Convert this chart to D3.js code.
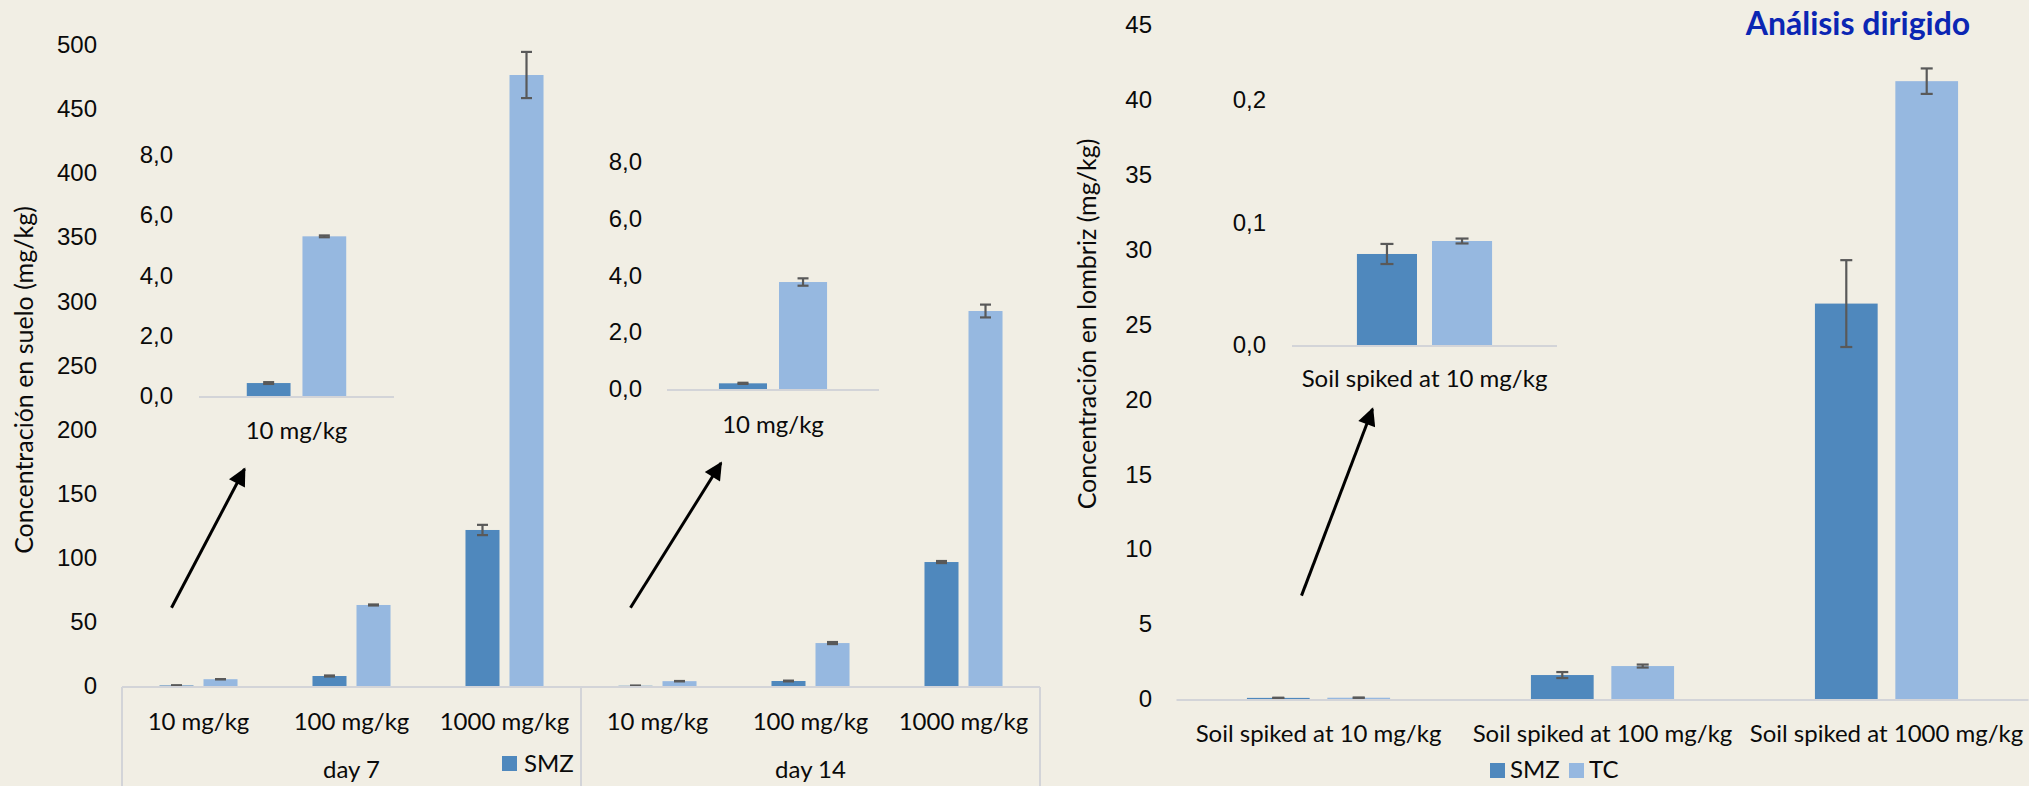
<!DOCTYPE html>
<html>
<head>
<meta charset="utf-8">
<script src="https://cdn.jsdelivr.net/npm/d3@7.9.0/dist/d3.min.js"></script>
<style>
  html, body { margin: 0; padding: 0; background: #f1eee4; overflow: hidden; }
  svg { display: block; font-family: Lato, Carlito, Calibri, sans-serif; }
</style>
</head>
<body>
<svg id="chart" width="2029" height="786"></svg>
<script>
const series = ['SMZ', 'TC'];
const colors = ['#4f88bd', '#96b8e0'];

// soil concentration (left panel), day 7 then day 14
const soilDays = ['day 7', 'day 14'];
const soilDoses = ['10 mg/kg', '100 mg/kg', '1000 mg/kg'];
const soilSMZ = [0.43, 7.8, 121.7, 0.2, 3.9, 96.7];
const soilSMZErr = [0.03, 0.4, 4, 0.02, 0.3, 0.8];
const soilTC = [5.3, 63.2, 476.6, 3.77, 33.5, 292.5];
const soilTCErr = [0.03, 0.4, 18, 0.13, 0.8, 5];
const soilTicks = [0, 50, 100, 150, 200, 250, 300, 350, 400, 450, 500];
const soilInsetTicks = [0, 2, 4, 6, 8];

// earthworm concentration (right panel)
const wormDoses = ['Soil spiked at 10 mg/kg', 'Soil spiked at 100 mg/kg', 'Soil spiked at 1000 mg/kg'];
const wormSMZ = [0.0743, 1.6, 26.4];
const wormSMZErr = [0.0082, 0.2, 2.9];
const wormTC = [0.0849, 2.2, 41.25];
const wormTCErr = [0.002, 0.1, 0.85];
const wormTicks = [0, 5, 10, 15, 20, 25, 30, 35, 40, 45];
const wormInsetTicks = [0, 0.1, 0.2];

const svg = d3.select('#chart');
const es = d3.formatLocale({ decimal: ',', thousands: '.', grouping: [3], currency: ['', '€'] });
const fmt1 = es.format('.1f');
const axisGrey = '#d3d4d8';
const errGrey = '#595959';
const ink = '#0a0a0a';
const FS = 24;

svg.append('defs').append('marker')
    .attr('id', 'head')
    .attr('viewBox', '0 0 10 10')
    .attr('refX', 9).attr('refY', 5)
    .attr('markerWidth', 7).attr('markerHeight', 6)
    .attr('markerUnits', 'strokeWidth')
    .attr('orient', 'auto')
    .append('path').attr('d', 'M0,0 L10,5 L0,10 z').attr('fill', '#000');

// draws one grouped bar panel with error bars and returns its scales
function panel({ keys, smz, smzErr, tc, tcErr, xRange, pad, gap, yDomain, yRange, ticks, fmt, tickRight, cap }) {
    const x0 = d3.scaleBand().domain(keys).range(xRange).paddingInner(pad).paddingOuter(pad / 2);
    const x1 = d3.scaleBand().domain(series).range([0, x0.bandwidth()]).paddingInner(gap);
    const y = d3.scaleLinear().domain(yDomain).range(yRange);
    const g = svg.append('g');

    const ax = g.append('g')
        .attr('transform', `translate(${tickRight},0)`)
        .call(d3.axisLeft(y).tickValues(ticks).tickSize(0).tickPadding(0).tickFormat(fmt));
    ax.select('.domain').remove();
    ax.selectAll('text').attr('font-size', FS).attr('fill', ink).attr('font-family', null);

    const rows = keys.map((k, i) => ({ k, vals: [[smz[i], smzErr[i]], [tc[i], tcErr[i]]] }));
    const grp = g.selectAll('.grp').data(rows).join('g')
        .attr('transform', d => `translate(${x0(d.k)},0)`);
    const bar = grp.selectAll('g').data(d => d.vals.map((v, j) => ({ s: series[j], v: v[0], e: v[1], c: colors[j] })))
        .join('g');
    bar.append('rect')
        .attr('x', d => x1(d.s)).attr('width', x1.bandwidth())
        .attr('y', d => y(d.v)).attr('height', d => y(0) - y(d.v))
        .attr('fill', d => d.c);
    const eb = bar.append('g').attr('stroke', errGrey).attr('stroke-width', 2.2);
    eb.append('line')
        .attr('x1', d => x1(d.s) + x1.bandwidth() / 2).attr('x2', d => x1(d.s) + x1.bandwidth() / 2)
        .attr('y1', d => y(d.v - d.e)).attr('y2', d => y(d.v + d.e));
    [-1, 1].forEach(sign => {
        eb.append('line')
            .attr('x1', d => x1(d.s) + x1.bandwidth() / 2 - cap / 2)
            .attr('x2', d => x1(d.s) + x1.bandwidth() / 2 + cap / 2)
            .attr('y1', d => y(d.v + sign * d.e)).attr('y2', d => y(d.v + sign * d.e));
    });

    g.append('line')
        .attr('x1', xRange[0]).attr('x2', xRange[1])
        .attr('y1', y(0) + 1).attr('y2', y(0) + 1)
        .attr('stroke', axisGrey).attr('stroke-width', 2);
    return { x0, y, g };
}

function label(x, y, text, opts = {}) {
    return svg.append('text')
        .attr('x', x).attr('y', y).attr('dy', '0.35em')
        .attr('text-anchor', opts.anchor || 'middle')
        .attr('font-size', opts.size || FS)
        .attr('font-weight', opts.weight || 'normal')
        .attr('fill', opts.color || ink)
        .text(text);
}

// ---------- left: soil ----------
const soilKeys = soilDays.flatMap(d => soilDoses.map(s => d + '|' + s));
const soil = panel({
    keys: soilKeys, smz: soilSMZ, smzErr: soilSMZErr, tc: soilTC, tcErr: soilTCErr,
    xRange: [122, 1040], pad: 0.49, gap: 0.227,
    yDomain: [0, 500], yRange: [686, 45], ticks: soilTicks, fmt: d3.format('d'),
    tickRight: 97, cap: 11
});
const step = soil.x0.step();
const base = soil.y(0) + 1;
// category table under the axis
[0, 3, 6].forEach(i => {
    svg.append('line')
        .attr('x1', 122 + i * step).attr('x2', 122 + i * step)
        .attr('y1', base).attr('y2', 786)
        .attr('stroke', axisGrey).attr('stroke-width', 2);
});
soilKeys.forEach(k => {
    label(soil.x0(k) + soil.x0.bandwidth() / 2, 722, k.split('|')[1]);
});
soilDays.forEach((d, i) => {
    label(122 + (i * 3 + 1.5) * step, 770, d);
});
svg.append('rect').attr('x', 502).attr('y', 756).attr('width', 15).attr('height', 15).attr('fill', colors[0]);
label(524, 764, 'SMZ', { anchor: 'start' });

svg.append('text')
    .attr('transform', 'translate(24,380) rotate(-90)')
    .attr('dy', '0.35em').attr('text-anchor', 'middle')
    .attr('font-size', 25).attr('fill', ink)
    .text('Concentración en suelo (mg/kg)');

// insets: 10 mg/kg zoom for each day
const insets = [
    { i: 0, xRange: [199, 394], yRange: [396, 155], tickRight: 173, lab: 431, gap: 0.214 },
    { i: 3, xRange: [667, 879], yRange: [389, 162], tickRight: 642, lab: 425, gap: 0.2 }
];
insets.forEach(o => {
    panel({
        keys: [soilDoses[0]], smz: [soilSMZ[o.i]], smzErr: [soilSMZErr[o.i]],
        tc: [soilTC[o.i]], tcErr: [soilTCErr[o.i]],
        xRange: o.xRange, pad: 0.49, gap: o.gap,
        yDomain: [0, 8], yRange: o.yRange, ticks: soilInsetTicks, fmt: fmt1,
        tickRight: o.tickRight, cap: 11
    });
    const cx = (o.xRange[0] + o.xRange[1]) / 2;
    label(cx, o.lab, soilDoses[0]);
    // arrow from the small main-chart bars up to the inset
    const mx = soil.x0(soilKeys[o.i]) + soil.x0.bandwidth() / 2;
    svg.append('line')
        .attr('x1', mx - 27).attr('y1', soil.y(61))
        .attr('x2', cx - 52).attr('y2', o.lab + 38)
        .attr('stroke', '#000').attr('stroke-width', 3)
        .attr('marker-end', 'url(#head)');
});

// ---------- right: earthworm ----------
const worm = panel({
    keys: wormDoses, smz: wormSMZ, smzErr: wormSMZErr, tc: wormTC, tcErr: wormTCErr,
    xRange: [1176.5, 2028.5], pad: 0.496, gap: 0.22,
    yDomain: [0, 45], yRange: [699, 25], ticks: wormTicks, fmt: d3.format('d'),
    tickRight: 1152, cap: 12
});
wormDoses.forEach(d => label(worm.x0(d) + worm.x0.bandwidth() / 2, 734, d));

panel({
    keys: [wormDoses[0]], smz: [wormSMZ[0]], smzErr: [wormSMZErr[0]],
    tc: [wormTC[0]], tcErr: [wormTCErr[0]],
    xRange: [1292, 1557], pad: 0.49, gap: 0.2,
    yDomain: [0, 0.2], yRange: [345, 100], ticks: wormInsetTicks, fmt: fmt1,
    tickRight: 1266, cap: 13
});
label(1424.5, 379, wormDoses[0]);
{
    const mx = worm.x0(wormDoses[0]) + worm.x0.bandwidth() / 2;
    svg.append('line')
        .attr('x1', mx - 17).attr('y1', worm.y(6.9))
        .attr('x2', 1424.5 - 52).attr('y2', 379 + 30)
        .attr('stroke', '#000').attr('stroke-width', 3)
        .attr('marker-end', 'url(#head)');
}

svg.append('text')
    .attr('transform', 'translate(1087,324) rotate(-90)')
    .attr('dy', '0.35em').attr('text-anchor', 'middle')
    .attr('font-size', 25).attr('fill', ink)
    .text('Concentración en lombriz (mg/kg)');

series.forEach((s, i) => {
    const lx = [1490, 1569][i];
    svg.append('rect').attr('x', lx).attr('y', 763).attr('width', 15).attr('height', 15).attr('fill', colors[i]);
    label(lx + 20, 770, s, { anchor: 'start' });
});

svg.append('text')
    .attr('x', 1858).attr('y', 35).attr('text-anchor', 'middle')
    .attr('font-size', 32).attr('font-weight', 'bold').attr('fill', '#0b26b3')
    .text('Análisis dirigido');
</script>
</body>
</html>
